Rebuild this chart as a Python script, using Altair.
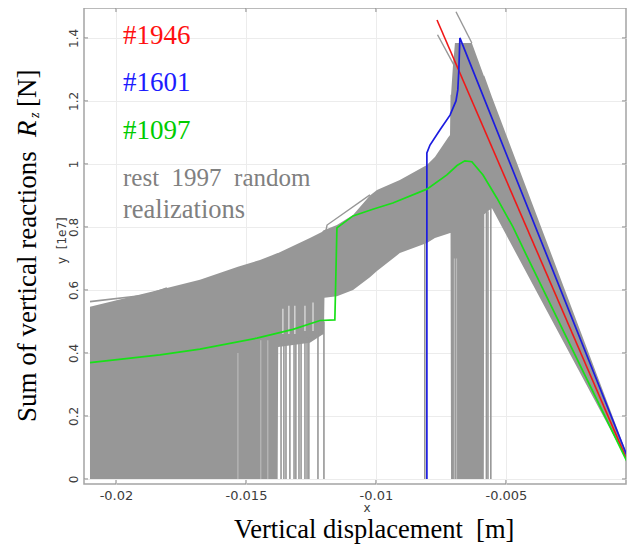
import altair as alt
import pandas as pd

# Gray envelope of the 1997 random realizations (x in m, y in 1e7 N)
band_x = [-0.02100, -0.01804, -0.01677, -0.01531, -0.01446, -0.01378, -0.01376, -0.01254, -0.01208, -0.01200,
          -0.01198, -0.01150, -0.01088, -0.01023, -0.00996, -0.00908, -0.00804, -0.00773, -0.00723, -0.00715, -0.00713,
          -0.00711, -0.00704, -0.00696, -0.00631, -0.00585, -0.00583, -0.00554, -0.00029]
band_top = [0.547, 0.606, 0.632, 0.674, 0.695, 0.717, 0.717, 0.765, 0.784, 0.790,
            0.790, 0.806, 0.838, 0.900, 0.917, 0.949, 0.997, 1.022, 1.083, 1.092, 1.220,
            1.220, 1.308, 1.384, 1.384, 1.280, 1.280, 1.213, 0.067]
band_low = [0, 0, 0, 0, 0, 0, 0.419, 0.432, 0.457, 0.460,
            0.575, 0.580, 0.600, 0.640, 0.660, 0.717, 0.749, 0.765, 0.778, 0.781, 0.781,
            0, 0, 0, 0, 0, 0.840, 0.860, 0.050]

# Stand-alone gray drops and the paler streaks inside the solid block
drop_x = [-0.01365, -0.01354, -0.01346, -0.01331, -0.01315, -0.01308, -0.01296, -0.01288, -0.01273, -0.01265,
          -0.01258, -0.01223, -0.01200, -0.00812, -0.00575, -0.00569, -0.00558]
drop_top = [0.43, 0.43, 0.43, 0.44, 0.44, 0.44, 0.44, 0.44, 0.45, 0.45,
            0.45, 0.47, 0.50, 0.76, 0.85, 0.85, 0.86]
streak_x = [-0.01531, -0.01443, -0.01416, -0.00698, -0.00690]
streak_top = [0.40, 0.44, 0.44, 0.70, 0.70]
# Pale gaps between the drops, higher up in the band
gap_x = [-0.01358, -0.01335, -0.01312, -0.01273, -0.01242]
gap_low = [0.46, 0.46, 0.46, 0.47, 0.47]
gap_high = [0.54, 0.55, 0.55, 0.55, 0.56]

# Gray outlier runs
out1_x = [-0.02100, -0.01882, -0.01804]
out1_y = [0.563, 0.584, 0.606]
out2_x = [-0.00763, -0.00696]
out2_y = [1.410, 1.308]
out3_x = [-0.00692, -0.00631]
out3_y = [1.483, 1.384]
out4_x = [-0.01192, -0.01188, -0.01023]
out4_y = [0.790, 0.806, 0.902]

# Highlighted realizations
red_x = [-0.00765, -0.00031]
red_y = [1.457, 0.054]
blue_x = [-0.00804, -0.00804, -0.00792, -0.00754, -0.00715, -0.00692, -0.00685, -0.00681, -0.00677, -0.00031]
blue_y = [0, 1.035, 1.060, 1.108, 1.155, 1.200, 1.235, 1.300, 1.400, 0.067]
green_x = [-0.02100, -0.01831, -0.01677, -0.01458, -0.01319, -0.01215, -0.01158, -0.01150, -0.01088, -0.01012,
           -0.00935, -0.00804, -0.00727, -0.00688, -0.00658, -0.00631, -0.00588, -0.00535, -0.00473,
           -0.00415, -0.00031]
green_y = [0.369, 0.394, 0.412, 0.447, 0.475, 0.503, 0.505, 0.797, 0.835, 0.856,
           0.876, 0.920, 0.965, 0.995, 1.010, 1.007, 0.965, 0.892, 0.800,
           0.700, 0.050]

x_ticks = [-0.02, -0.015, -0.01, -0.005]
y_ticks = [0, 0.2, 0.4, 0.6, 0.8, 1, 1.2, 1.4]

GRAY = "#979797"
xs = alt.Scale(domain=[-0.02123, -0.00038], nice=False, zero=False)
ys = alt.Scale(domain=[-0.016, 1.495], nice=False, zero=False)
W, H = 542, 476


def series(xv, yv, color, width):
    return alt.Chart(pd.DataFrame({"x": xv, "y": yv})).mark_line(
        color=color, strokeWidth=width, clip=True
    ).encode(x=alt.X("x:Q", scale=xs), y=alt.Y("y:Q", scale=ys))


x_axis = alt.Axis(values=x_ticks, title=None, ticks=False, domain=False, grid=True, gridColor="#ececec",
                  labelExpr="replace(format(datum.value,'.3~f'),'\u2212','-')", labelFont="DejaVu Sans",
                  labelFontSize=13, labelColor="#3c3c3c", labelPadding=5, labelFlush=False)
y_axis = alt.Axis(values=y_ticks, title=None, ticks=False, domain=False, grid=True, gridColor="#ececec",
                  format="~g", labelFont="DejaVu Sans", labelFontSize=12, labelColor="#3c3c3c",
                  labelAngle=270, labelPadding=4, labelAlign="center", labelBaseline="bottom")

band = alt.Chart(pd.DataFrame({"x": band_x, "top": band_top, "low": band_low})).mark_area(
    color=GRAY, opacity=1, clip=True
).encode(x=alt.X("x:Q", scale=xs, axis=x_axis), y=alt.Y("top:Q", scale=ys, axis=y_axis), y2="low:Q")

drops = alt.Chart(pd.DataFrame({"x": drop_x, "top": drop_top})).mark_rule(
    color=GRAY, strokeWidth=1.6
).encode(x=alt.X("x:Q", scale=xs), y=alt.Y("top:Q", scale=ys), y2=alt.datum(0))
streaks = alt.Chart(pd.DataFrame({"x": streak_x, "top": streak_top})).mark_rule(
    color="#b9b9b9", strokeWidth=1.2
).encode(x=alt.X("x:Q", scale=xs), y=alt.Y("top:Q", scale=ys), y2=alt.datum(0))
gaps = alt.Chart(pd.DataFrame({"x": gap_x, "hi": gap_high, "lo": gap_low})).mark_rule(
    color="#d4d4d4", strokeWidth=1.5
).encode(x=alt.X("x:Q", scale=xs), y=alt.Y("hi:Q", scale=ys), y2="lo:Q")

tx = pd.DataFrame({"x": x_ticks})
ty = pd.DataFrame({"y": y_ticks})
tick_color = "#8c8c8c"
ticks = [
    alt.Chart(tx).mark_rule(color=tick_color).encode(x=alt.X("x:Q", scale=xs), y=alt.value(0), y2=alt.value(4)),
    alt.Chart(tx).mark_rule(color=tick_color).encode(x=alt.X("x:Q", scale=xs), y=alt.value(H - 4), y2=alt.value(H)),
    alt.Chart(ty).mark_rule(color=tick_color).encode(y=alt.Y("y:Q", scale=ys), x=alt.value(0), x2=alt.value(4)),
    alt.Chart(ty).mark_rule(color=tick_color).encode(y=alt.Y("y:Q", scale=ys), x=alt.value(W - 4), x2=alt.value(W)),
]


def label(text, px, py, size=26, color="black", font="Liberation Serif", angle=0, style="normal", align="left"):
    return alt.Chart(pd.DataFrame({"t": [text]})).mark_text(
        font=font, fontSize=size, color=color, angle=angle, fontStyle=style, align=align, baseline="alphabetic"
    ).encode(text="t:N", x=alt.value(px - 84), y=alt.value(py - 8))


labels = [
    label("#1946", 123, 44, size=27, color="#ff1010"),
    label("#1601", 123, 91, size=27, color="#1c1cff"),
    label("#1097", 123, 139, size=27, color="#00cc00"),
    label("rest\u00a0\u00a01997\u00a0\u00a0random", 123, 186, size=25, color="#808080"),
    label("realizations", 123, 218, size=26.5, color="#808080"),
    label("Vertical displacement\u00a0\u00a0[m]", 234, 538, size=26.5),
    label("Sum of vertical reactions", 36, 422, size=27, angle=270),
    label("R", 36, 137, size=27, angle=270, style="italic"),
    label("z", 39, 118, size=14, angle=270, style="italic"),
    label("[N]", 36, 107, size=27, angle=270),
    label("x", 363.5, 512, size=12, font="DejaVu Sans", color="#3c3c3c"),
    label("y\u00a0\u00a0[1e7]", 66, 264, size=12, font="DejaVu Sans", color="#3c3c3c", angle=270),
]

chart = alt.layer(
    band, streaks, gaps, drops,
    series(out1_x, out1_y, GRAY, 1.6),
    series(out2_x, out2_y, GRAY, 1.4),
    series(out3_x, out3_y, GRAY, 1.4),
    series(out4_x, out4_y, GRAY, 1.4),
    *ticks,
    series(red_x, red_y, "#f01818", 1.6),
    series(blue_x, blue_y, "#1c1ce0", 1.7),
    series(green_x, green_y, "#18e018", 1.7),
    *labels,
).properties(
    width=W, height=H,
    autosize=alt.AutoSizeParams(type="none"),
    padding={"left": 76, "top": 0, "right": 1, "bottom": 60},
    background="white",
).configure_view(stroke="#a4a4a4", strokeWidth=1.5)

chart.save("out.html", embed_options={"renderer": "svg", "actions": False})
